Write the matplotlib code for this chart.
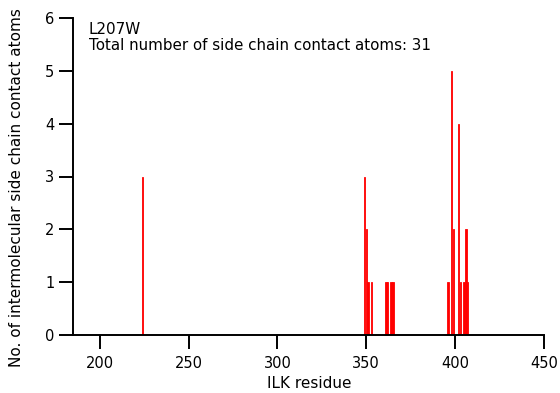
import matplotlib
matplotlib.use("Agg")
import matplotlib.pyplot as plt

# Data
residues = [224, 349, 350, 351, 353, 361, 362, 364, 365,
            396, 398, 399, 402, 403, 405, 406, 407]
counts = [3, 3, 2, 1, 1, 1, 1, 1, 1,
          1, 5, 2, 4, 1, 1, 2, 1]
x_ticks = [200, 250, 300, 350, 400, 450]
y_ticks = [0, 1, 2, 3, 4, 5, 6]
title_line1 = "L207W"
title_line2 = "Total number of side chain contact atoms: 31"
x_label = "ILK residue"
y_label = "No. of intermolecular side chain contact atoms"

plt.rcParams['font.family'] = ['DejaVu Sans']

fig = plt.figure(figsize=(5.6, 3.93), dpi=100)
ax = fig.add_axes([73/560, 1 - 335/393, (544 - 73)/560, (335 - 18)/393])

ax.bar(residues, counts, width=0.85, color='#ff0000', edgecolor='#ff0000',
       linewidth=0.6, align='center')

ax.set_xlim(185, 450)
ax.set_ylim(0, 6)
ax.set_xticks(x_ticks)
ax.set_yticks(y_ticks)

for s in ['top', 'right']:
    ax.spines[s].set_visible(False)
for s in ['left', 'bottom']:
    ax.spines[s].set_linewidth(1.4)
ax.tick_params(axis='both', direction='out', length=10, width=1.4,
               labelsize=10.5, colors='black')
ax.tick_params(axis='y', pad=3.5)
ax.tick_params(axis='x', pad=5)

fig.text(89/560, 1 - 34/393, title_line1, fontsize=10.9, ha='left', va='baseline')
fig.text(89/560, 1 - 50/393, title_line2, fontsize=10.9, ha='left', va='baseline')

fig.text(309/560, 1 - 384/393, x_label, fontsize=11, ha='center', va='center')
fig.text(17/560, 1 - 188/393, y_label, fontsize=11, ha='center', va='center',
         rotation=90)

fig.savefig("out.png", dpi=100, facecolor='white')
